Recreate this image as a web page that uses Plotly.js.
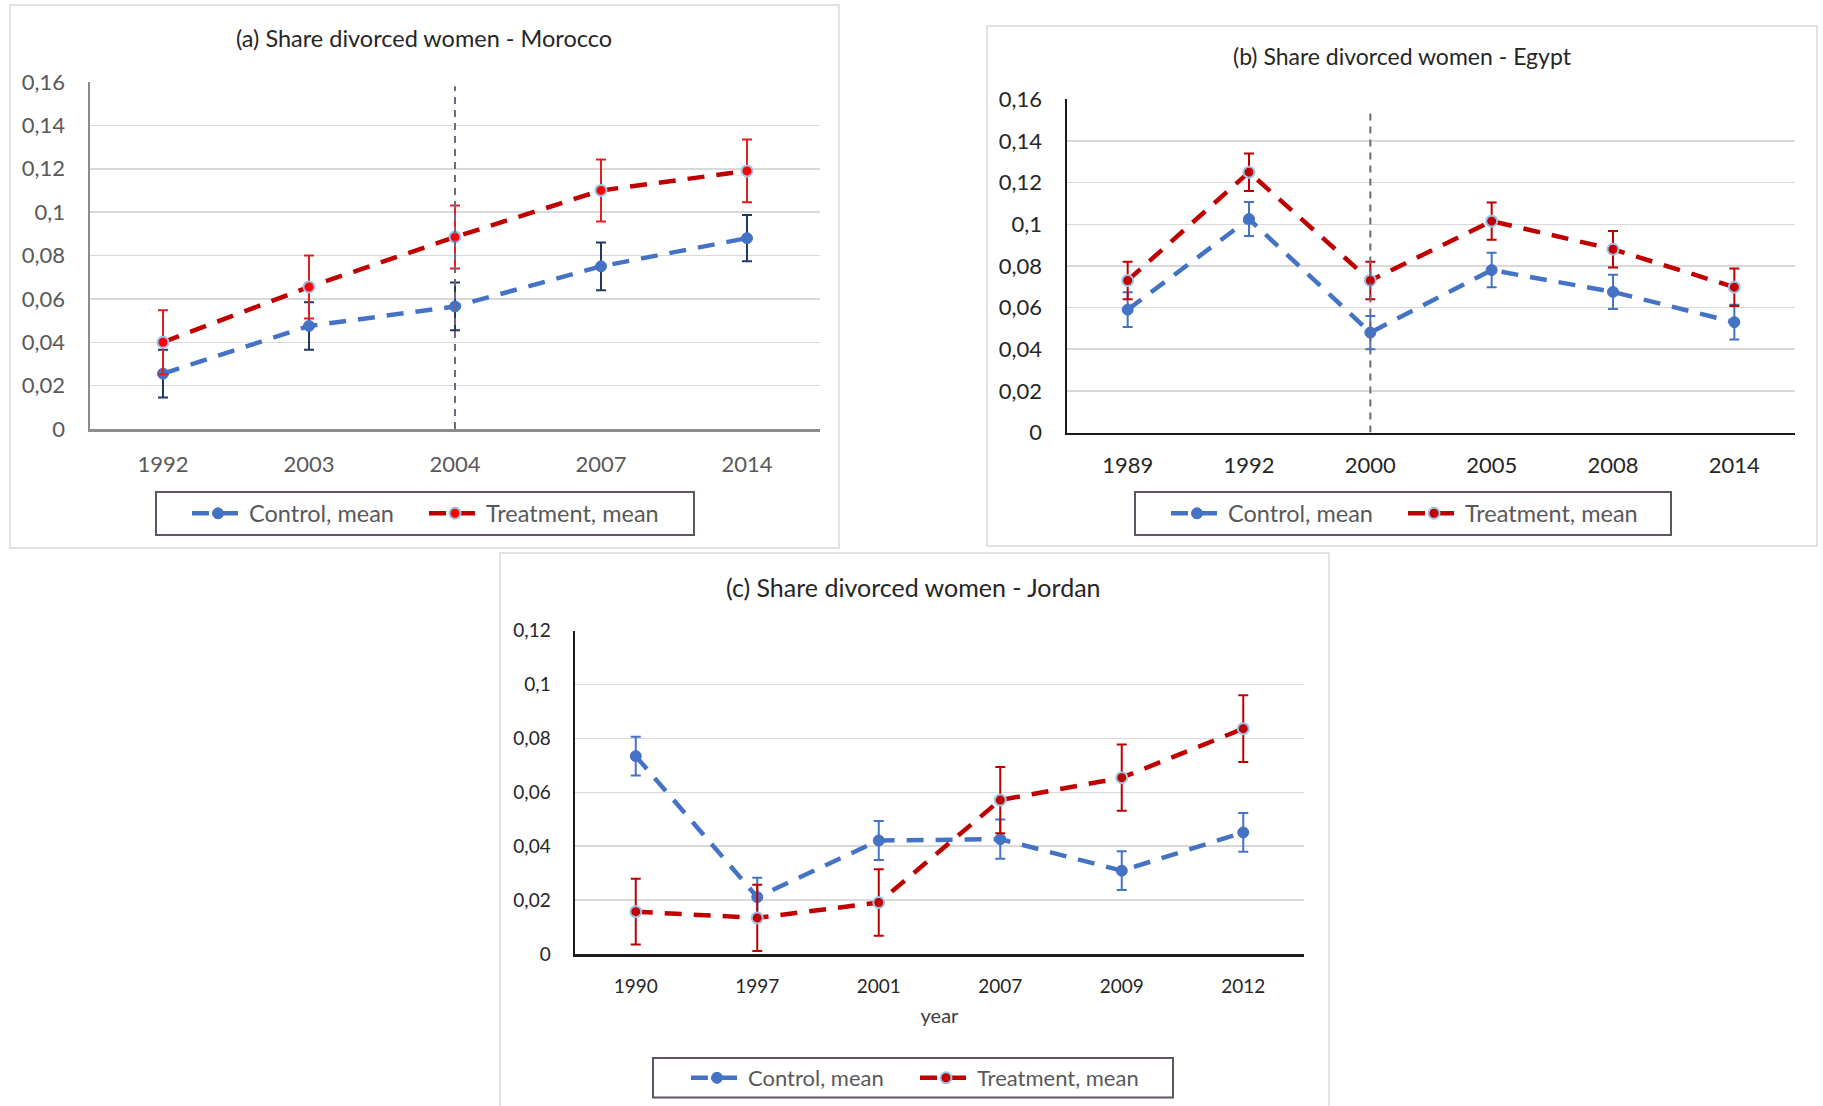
<!DOCTYPE html>
<html>
<head>
<meta charset="utf-8">
<script src="https://cdn.plot.ly/plotly-3.0.1.min.js"></script>
<style>
  html, body { margin: 0; padding: 0; background: #ffffff; }
  #chart { width: 1823px; height: 1106px; }
</style>
</head>
<body>
<div id="chart"></div>
<script>
// ---------------- DATA ----------------
const seriesNames = ['Control, mean', 'Treatment, mean'];

const titleA = '(a) Share divorced women - Morocco';
const moroccoYears = ['1992', '2003', '2004', '2007', '2014'];
const moroccoControl = [0.0255, 0.0475, 0.0565, 0.075, 0.088];
const moroccoControlErr = [0.011, 0.011, 0.011, 0.011, 0.0107];
const moroccoTreat = [0.040, 0.0655, 0.0885, 0.110, 0.119];
const moroccoTreatErr = [0.0147, 0.0145, 0.0145, 0.0143, 0.0145];
const moroccoReformYear = '2004';
const moroccoReformTop = 0.158;

const titleB = '(b) Share divorced women - Egypt';
const egyptYears = ['1989', '1992', '2000', '2005', '2008', '2014'];
const egyptControl = [0.059, 0.1025, 0.048, 0.078, 0.0675, 0.053];
const egyptControlErr = [0.0083, 0.0082, 0.008, 0.0083, 0.0082, 0.0083];
const egyptTreat = [0.073, 0.125, 0.073, 0.1015, 0.088, 0.0698];
const egyptTreatErr = [0.009, 0.009, 0.009, 0.009, 0.0088, 0.009];
const egyptReformYear = '2000';
const egyptReformTop = 0.155;

const titleC = '(c) Share divorced women - Jordan';
const jordanYears = ['1990', '1997', '2001', '2007', '2009', '2012'];
const jordanControl = [0.0734, 0.0211, 0.0421, 0.0426, 0.0309, 0.0451];
const jordanControlErr = [0.0072, 0.0072, 0.0072, 0.0073, 0.0072, 0.0072];
const jordanTreat = [0.0157, 0.0134, 0.0191, 0.0571, 0.0654, 0.0836];
const jordanTreatErr = [0.0122, 0.0123, 0.0123, 0.0123, 0.0123, 0.0124];
const xTitleC = 'year';

const yTickVals16 = [0, 0.02, 0.04, 0.06, 0.08, 0.10, 0.12, 0.14, 0.16];
const yTickText16 = ['0', '0,02', '0,04', '0,06', '0,08', '0,1', '0,12', '0,14', '0,16'];
const yTickVals12 = [0, 0.02, 0.04, 0.06, 0.08, 0.10, 0.12];
const yTickText12 = ['0', '0,02', '0,04', '0,06', '0,08', '0,1', '0,12'];

// ---------------- LAYOUT HELPERS ----------------
const W = 1823, H = 1106;
const px = v => v / W;
const py = v => 1 - v / H;

const FONT = 'Lato, "Open Sans", "Noto Sans", sans-serif';
const BLUE = '#4472C4';
const RED = '#C00000';
const dashPat = '17px,12px';

function controlTrace(x, y, err, errColor, xa, ya, leg) {
  return {
    type: 'scatter', mode: 'lines+markers', name: seriesNames[0],
    x: x, y: y, xaxis: xa, yaxis: ya, legend: leg,
    line: { color: BLUE, width: 4.5, dash: dashPat },
    marker: { color: BLUE, size: 11, line: { color: BLUE, width: 1 } },
    error_y: { type: 'data', array: err, visible: true, color: errColor, thickness: 2, width: 5 },
    hoverinfo: 'x+y'
  };
}
function treatTrace(x, y, err, fill, errColor, xa, ya, leg) {
  return {
    type: 'scatter', mode: 'lines+markers', name: seriesNames[1],
    x: x, y: y, xaxis: xa, yaxis: ya, legend: leg,
    line: { color: RED, width: 4.5, dash: dashPat },
    marker: { color: fill, size: 11, line: { color: '#9DC3E6', width: 2 } },
    error_y: { type: 'data', array: err, visible: true, color: errColor, thickness: 2, width: 5 },
    hoverinfo: 'x+y'
  };
}

const data = [
  controlTrace(moroccoYears, moroccoControl, moroccoControlErr, '#203864', 'x', 'y', 'legend'),
  treatTrace(moroccoYears, moroccoTreat, moroccoTreatErr, '#FF0000', '#E02020', 'x', 'y', 'legend'),
  controlTrace(egyptYears, egyptControl, egyptControlErr, BLUE, 'x2', 'y2', 'legend2'),
  treatTrace(egyptYears, egyptTreat, egyptTreatErr, RED, RED, 'x2', 'y2', 'legend2'),
  controlTrace(jordanYears, jordanControl, jordanControlErr, BLUE, 'x3', 'y3', 'legend3'),
  treatTrace(jordanYears, jordanTreat, jordanTreatErr, RED, RED, 'x3', 'y3', 'legend3')
];

function xAxis(dom, anchor, n, lineColor, tickColor, fs, standoff) {
  return {
    domain: dom, anchor: anchor, type: 'category',
    range: [-0.5, n - 0.5],
    showgrid: false, zeroline: false,
    showline: true, linecolor: lineColor, linewidth: 2.5,
    ticks: '', ticklabelstandoff: standoff,
    tickfont: { family: FONT, size: fs, color: tickColor },
    fixedrange: true
  };
}
function yAxis(dom, anchor, maxv, vals, text, lineColor, tickColor, fs) {
  return {
    domain: dom, anchor: anchor,
    range: [0, maxv], tickmode: 'array', tickvals: vals, ticktext: text,
    showgrid: true, gridcolor: '#D9D9D9', gridwidth: 1.5,
    zeroline: false,
    showline: true, linecolor: lineColor, linewidth: 2.5,
    ticks: '', ticklabelstandoff: 18,
    tickfont: { family: FONT, size: fs, color: tickColor },
    fixedrange: true
  };
}

// legend content placed inside a box drawn as a shape
function legendBox(left, cy, fs, ew) {
  return {
    orientation: 'h', x: px(left), y: py(cy), xanchor: 'left', yanchor: 'middle',
    xref: 'paper', yref: 'paper',
    bgcolor: 'rgba(0,0,0,0)', borderwidth: 0,
    font: { family: FONT, size: fs, color: '#595959' },
    itemwidth: 52, indentation: 0,
    entrywidth: ew, entrywidthmode: 'pixels', traceorder: 'normal'
  };
}
function legendFrame(x0, y0, x1, y1) {
  return {
    type: 'rect', xref: 'paper', yref: 'paper',
    x0: px(x0), x1: px(x1), y0: py(y1), y1: py(y0),
    line: { color: '#5F5566', width: 2 }, fillcolor: '#ffffff', layer: 'below'
  };
}

function panelBorder(x0, y0, x1, y1) {
  return {
    type: 'rect', xref: 'paper', yref: 'paper',
    x0: px(x0), x1: px(x1), y0: py(y1), y1: py(y0),
    line: { color: '#D9D9D9', width: 1.5 }, fillcolor: 'rgba(0,0,0,0)', layer: 'below'
  };
}
function reformLine(cats, year, top, xa, ya) {
  const idx = cats.indexOf(year);
  return {
    type: 'line', xref: xa, yref: ya,
    x0: idx, x1: idx, y0: 0, y1: top,
    line: { color: '#76657F', width: 2, dash: '7px,6px' }, layer: 'above'
  };
}
function titleAnn(text, cx, cy, fs) {
  return {
    text: text, xref: 'paper', yref: 'paper', x: px(cx), y: py(cy),
    xanchor: 'center', yanchor: 'middle', showarrow: false,
    font: { family: FONT, size: fs, color: '#262626' }
  };
}

const layout = {
  width: W, height: H,
  margin: { l: 0, r: 0, t: 0, b: 0 },
  paper_bgcolor: '#ffffff', plot_bgcolor: 'rgba(0,0,0,0)',
  separators: ', ',
  showlegend: true,
  hovermode: false,
  xaxis: xAxis([px(90), px(820)], 'y', moroccoYears.length, '#8C8C8C', '#595959', 22, 14),
  yaxis: yAxis([py(429), py(82)], 'x', 0.16, yTickVals16, yTickText16, '#8C8C8C', '#595959', 22),
  xaxis2: xAxis([px(1067), px(1795)], 'y2', egyptYears.length, '#1A1A1A', '#262626', 22, 12),
  yaxis2: yAxis([py(432.5), py(99.3)], 'x2', 0.16, yTickVals16, yTickText16, '#1A1A1A', '#262626', 22),
  xaxis3: Object.assign(xAxis([px(575), px(1304)], 'y3', jordanYears.length, '#1A1A1A', '#262626', 19, 14), {
    title: { text: xTitleC, font: { family: FONT, size: 20, color: '#404040' }, standoff: 13 }
  }),
  yaxis3: yAxis([py(954), py(630.5)], 'x3', 0.12, yTickVals12, yTickText12, '#1A1A1A', '#262626', 19),
  legend: legendBox(187, 513.5, 23.5, 170),
  legend2: legendBox(1166, 513.5, 23.5, 170),
  legend3: legendBox(686, 1078, 22, 162),
  shapes: [
    panelBorder(10, 5, 839, 548),
    panelBorder(987, 26, 1817, 546),
    panelBorder(500, 553, 1329, 1110),
    legendFrame(156, 492, 694, 535),
    legendFrame(1135, 492, 1671, 535),
    legendFrame(653, 1058, 1173, 1097.5),
    reformLine(moroccoYears, moroccoReformYear, moroccoReformTop, 'x', 'y'),
    reformLine(egyptYears, egyptReformYear, egyptReformTop, 'x2', 'y2')
  ],
  annotations: [
    titleAnn(titleA, 424, 38, 23.5),
    titleAnn(titleB, 1402, 56, 23),
    titleAnn(titleC, 914, 587, 25)
  ]
};

Plotly.newPlot('chart', data, layout, { displayModeBar: false, staticPlot: true, responsive: false });
</script>
</body>
</html>
